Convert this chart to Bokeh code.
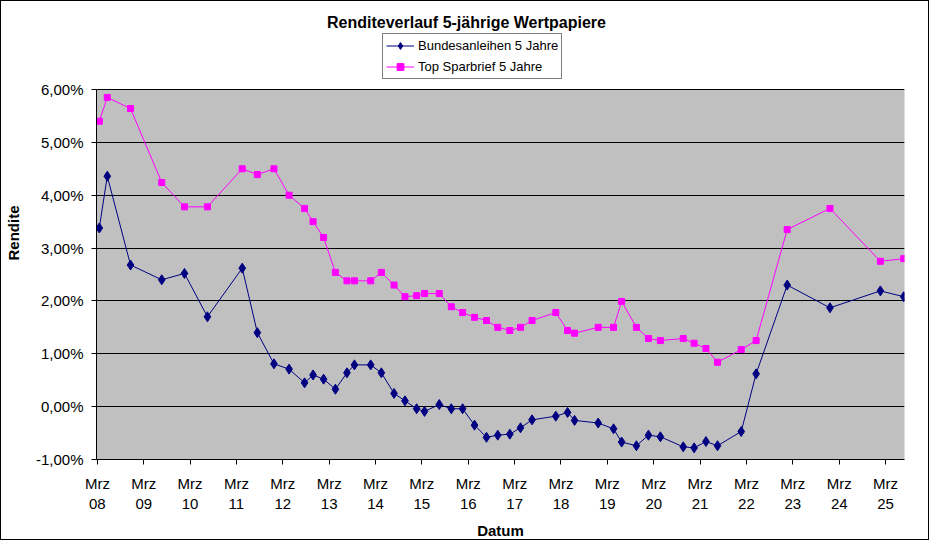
import pandas as pd
from datetime import datetime
from bokeh.plotting import figure
from bokeh.models import (FixedTicker, Legend, LegendItem, ColumnDataSource, Range1d,
                          BoxAnnotation, Label)
from bokeh.embed import file_html
from bokeh.resources import INLINE

# ---- data ----
dates = ["2008-03-16", "2008-05-18", "2008-11-17", "2009-07-21", "2010-01-16", "2010-07-16",
         "2011-04-16", "2011-08-13", "2011-12-22", "2012-04-19", "2012-08-19", "2012-10-25",
         "2013-01-16", "2013-04-19", "2013-07-19", "2013-09-16", "2014-01-22", "2014-04-16",
         "2014-07-25", "2014-10-19", "2015-01-19", "2015-03-22", "2015-07-16", "2015-10-19",
         "2016-01-16", "2016-04-19", "2016-07-22", "2016-10-19", "2017-01-22", "2017-04-16",
         "2017-07-16", "2018-01-19", "2018-04-22", "2018-06-16", "2018-12-19", "2019-04-19",
         "2019-06-22", "2019-10-16", "2020-01-19", "2020-04-22", "2020-10-19", "2021-01-13",
         "2021-04-16", "2021-07-16", "2022-01-19", "2022-05-16", "2023-01-16", "2023-12-19",
         "2025-01-19", "2025-07-22"]

bundesanleihen = [3.38, 4.36, 2.68, 2.40, 2.52, 1.70, 2.62, 1.40, 0.81, 0.71, 0.45, 0.60,
                  0.52, 0.33, 0.64, 0.79, 0.79, 0.64, 0.25, 0.11, -0.04, -0.09, 0.04, -0.04,
                  -0.04, -0.35, -0.58, -0.54, -0.52, -0.40, -0.25, -0.18, -0.11, -0.26, -0.31,
                  -0.42, -0.67, -0.74, -0.54, -0.57, -0.76, -0.78, -0.66, -0.74, -0.47, 0.62,
                  2.30, 1.87, 2.19, 2.08]

sparbrief = [5.40, 5.85, 5.64, 4.24, 3.78, 3.78, 4.50, 4.39, 4.50, 4.00, 3.75, 3.50,
             3.20, 2.54, 2.38, 2.38, 2.38, 2.54, 2.30, 2.08, 2.10, 2.14, 2.14, 1.89,
             1.78, 1.69, 1.63, 1.50, 1.44, 1.50, 1.63, 1.78, 1.44, 1.39, 1.50, 1.50,
             1.99, 1.50, 1.29, 1.25, 1.29, 1.20, 1.10, 0.84, 1.08, 1.25, 3.35, 3.75,
             2.75, 2.80]

tick_years = list(range(2008, 2026))
x_tick_labels = ["Mrz\n%02d" % (y % 100) for y in tick_years]
y_ticks = [-1, 0, 1, 2, 3, 4, 5, 6]
y_tick_labels = ["-1,00%", "0,00%", "1,00%", "2,00%", "3,00%", "4,00%", "5,00%", "6,00%"]
y_min, y_max = -1, 6

title_text = "Renditeverlauf 5-jährige Wertpapiere"
series_names = ["Bundesanleihen 5 Jahre", "Top Sparbrief 5 Jahre"]

FONT = "Liberation Sans"

W, H = 929, 540
MB_L, MB_R, MB_T, MB_B = 95, 26, 5, 82
PLOT_H = 370  # pixel height of the gray plot area (-1 % .. 6 %)
frame_h = H - MB_T - MB_B
y_top = y_min + (y_max - y_min) * frame_h / PLOT_H

src = ColumnDataSource(dict(x=pd.to_datetime(dates), b=bundesanleihen, s=sparbrief))

p = figure(width=W, height=H, x_axis_type="datetime", output_backend="svg",
           toolbar_location=None,
           x_range=Range1d(datetime(2008, 2, 23), datetime(2025, 7, 28)),
           y_range=Range1d(y_min, y_top),
           min_border_left=MB_L, min_border_right=MB_R, min_border_top=MB_T,
           min_border_bottom=MB_B)

p.background_fill_color = "white"
p.border_fill_color = "white"
p.outline_line_color = None
p.styles = {"border": "1px solid black"}

# gray plot area
p.add_layout(BoxAnnotation(bottom=y_min, top=y_max, fill_color="#C0C0C0", fill_alpha=1,
                           line_color="#808080", line_width=1, level="image"))

# lines + markers
lb = p.line("x", "b", source=src, line_color="#000080", line_width=1)
mb = p.scatter("x", "b", source=src, marker="diamond", size=10, fill_color="#000080",
               line_color="#000080")
ls = p.line("x", "s", source=src, line_color="#FF00FF", line_width=1)
ms = p.scatter("x", "s", source=src, marker="square", size=6, fill_color="#FF00FF",
               line_color="#FF00FF")

# x axis
tick_ms = [pd.Timestamp(year=y, month=3, day=1).value // 10**6 for y in tick_years]
p.xaxis.ticker = FixedTicker(ticks=tick_ms)
p.xaxis.major_label_overrides = {t: lab for t, lab in zip(tick_ms, x_tick_labels)}
p.xaxis.axis_label = "Datum"

# y axis
p.yaxis.ticker = FixedTicker(ticks=y_ticks)
p.yaxis.major_label_overrides = {t: lab for t, lab in zip(y_ticks, y_tick_labels)}
p.yaxis.axis_label = "Rendite"
p.yaxis.bounds = (y_min, y_max)

for ax in (p.xaxis[0], p.yaxis[0]):
    ax.axis_line_color = "black"
    ax.major_tick_line_color = "black"
    ax.major_tick_out = 5
    ax.major_tick_in = 0
    ax.minor_tick_line_color = None
    ax.major_label_text_font = FONT
    ax.major_label_text_font_size = "15px"
    ax.major_label_text_color = "black"
    ax.axis_label_text_font = FONT
    ax.axis_label_text_font_size = "15px"
    ax.axis_label_text_font_style = "bold"
    ax.axis_label_text_color = "black"

p.xaxis.major_label_standoff = 10
p.xaxis.axis_label_standoff = 7
p.yaxis.major_label_standoff = 8
p.yaxis.axis_label_standoff = 11

p.xgrid.grid_line_color = None
p.ygrid.ticker = FixedTicker(ticks=y_ticks)
p.ygrid.grid_line_color = "black"
p.ygrid.grid_line_width = 1

# title (inside the frame, above the gray plot area)
p.add_layout(Label(x=370, y=437, x_units="screen", y_units="screen", text=title_text,
                   text_align="center", text_baseline="middle", text_font=FONT,
                   text_font_size="16px", text_font_style="bold", text_color="black"))

# legend
legend = Legend(items=[LegendItem(label=series_names[0], renderers=[lb, mb]),
                       LegendItem(label=series_names[1], renderers=[ls, ms])],
                location=(286, 380))
legend.border_line_color = "black"
legend.border_line_width = 1
legend.background_fill_color = "white"
legend.background_fill_alpha = 1
legend.label_text_font = FONT
legend.label_text_font_size = "13px"
legend.label_text_color = "black"
legend.glyph_width = 28
legend.glyph_height = 17
legend.label_height = 17
legend.label_standoff = 4
legend.spacing = 4
legend.padding = 3
legend.margin = 0
p.add_layout(legend, "center")

open("out.html", "w").write(file_html(p, INLINE))
